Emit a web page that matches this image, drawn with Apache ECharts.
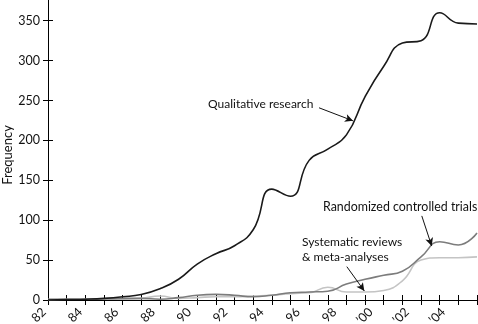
<!DOCTYPE html>
<html>
<head>
<meta charset="utf-8">
<script src="https://cdn.jsdelivr.net/npm/echarts@6/dist/echarts.min.js"></script>
<style>
html,body{margin:0;padding:0;background:#fff;}
#c{width:478px;height:324px;}
</style>
</head>
<body>
<div id="c"></div>
<script>
// ---- data ----
var years = [1982,1983,1984,1985,1986,1987,1988,1989,1990,1991,1992,1993,1994,1995,1996,1997,1998,1999,2000,2001,2002,2003,2004,2005];
var qualitative = [0,0.5,1,2,4,7,14,26,45,58,68,88,139,130,175,189,207,255,293,322,325,360,347,346];
var rct         = [1,1,1,1.5,2,2,1,3,6,7,6,4,6,9,10,11,20,26,31,36,54,73,69,84];
var sr          = [0.5,1,1,1,1,2,5,2,3,4,4,5,6,8,9,16,10,10,12,24,50,53,53,54];
var yTicks = [0,50,100,150,200,250,300,350];
var xLabelYears = [1982,1984,1986,1988,1990,1992,1994,1996,1998,2000,2002,2004];

function pairs(vals){ return years.map(function(y,i){ return [y, vals[i]]; }); }
function yearLabel(v){
  v = Math.round(v);
  if (v >= 2000) { var s = String(v-2000); if (s.length<2) s='0'+s; return '\u2019'+s; }
  return String(v-1900);
}

var FONT = 'Lato';
var chart = echarts.init(document.getElementById('c'), null, {renderer:'canvas'});

var axisLineStyle = {color:'#000', width:1};
var xBase = {
  type:'value', min:1982, max:2005, position:'bottom',
  splitLine:{show:false},
  axisLine:{show:true, onZero:false, lineStyle:axisLineStyle}
};
var yBase = {
  type:'value', min:0, max:376, position:'left',
  splitLine:{show:false},
  axisLine:{show:true, onZero:false, lineStyle:axisLineStyle}
};

function arrowLine(p1, p2){
  return {
    silent:true, symbol:['none','arrow'], symbolSize:[6,8],
    label:{show:false},
    lineStyle:{color:'#111', width:1, type:'solid'},
    emphasis:{disabled:true},
    data:[[{coord:p1},{coord:p2}]]
  };
}

var option = {
  animation:false,
  backgroundColor:'#fff',
  textStyle:{fontFamily:FONT},
  grid:{left:48, right:1, top:0, bottom:24, containLabel:false, outerBoundsMode:'none'},
  xAxis:[
    Object.assign({}, xBase, {
      axisTick:{show:true, inside:false, length:5, lineStyle:axisLineStyle, customValues:years},
      axisLabel:{show:false}
    }),
    Object.assign({}, xBase, {
      axisTick:{show:true, inside:true, length:5, lineStyle:axisLineStyle, customValues:years},
      axisLabel:{show:false}
    })
  ],
  yAxis:[
    Object.assign({}, yBase, {
      axisTick:{show:true, inside:false, length:5, lineStyle:axisLineStyle, customValues:yTicks},
      axisLabel:{show:true, margin:8, fontSize:12.5, color:'#111', fontFamily:FONT, customValues:yTicks}
    }),
    Object.assign({}, yBase, {
      axisTick:{show:true, inside:true, length:5, lineStyle:axisLineStyle, customValues:yTicks},
      axisLabel:{show:false}
    })
  ],
  series:[
    {type:'line', name:'Systematic reviews & meta-analyses', data:pairs(sr), smooth:0.5,
     showSymbol:false, lineStyle:{color:'#c4c4c4', width:1.6}, z:2,
     markLine:arrowLine([1998.02,41.8],[1998.96,11.3])},
    {type:'line', name:'Randomized controlled trials', data:pairs(rct), smooth:0.5,
     showSymbol:false, lineStyle:{color:'#7c7c7c', width:1.6}, z:3,
     markLine:arrowLine([2002.04,105.4],[2002.57,67.8])},
    {type:'line', name:'Qualitative research', data:pairs(qualitative), smooth:0.5,
     showSymbol:false, lineStyle:{color:'#1a1a1a', width:1.6}, z:4,
     markLine:arrowLine([1996.53,240.9],[1998.35,224.6])}
  ]
};
chart.setOption(option);

// axis title, annotations and rotated year labels (placed like the reference)
var graphics = [
  {type:'text', x:8, y:155, rotation:Math.PI/2, silent:true,
   style:{text:'Frequency', font:'13px '+FONT, fill:'#111', align:'center', verticalAlign:'middle'}},
  {type:'text', left:208, top:98, style:{text:'Qualitative research', font:'12px '+FONT, fill:'#111'}},
  {type:'text', left:323, top:201, style:{text:'Randomized controlled trials', font:'12.4px '+FONT, fill:'#111'}},
  {type:'text', left:302, top:236, style:{text:'Systematic reviews', font:'12px '+FONT, fill:'#111'}},
  {type:'text', left:302, top:251, style:{text:'& meta-analyses', font:'12px '+FONT, fill:'#111'}}
];
var axisY = chart.convertToPixel({yAxisIndex:0}, 0);
xLabelYears.forEach(function(yr){
  var px = chart.convertToPixel({xAxisIndex:0}, yr);
  graphics.push({
    type:'text', x: px - 4 - (yr-1982)*0.5, y: axisY + 10, rotation: Math.PI/4, silent:true,
    style:{text: yearLabel(yr), font:'12.5px '+FONT, fill:'#111', align:'right', verticalAlign:'middle'}
  });
});
chart.setOption({graphic:graphics});
</script>
</body>
</html>
